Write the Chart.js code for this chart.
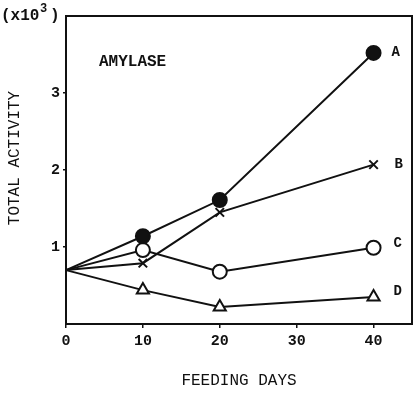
<!DOCTYPE html>
<html>
<head>
<meta charset="utf-8">
<style>
  html, body { margin: 0; padding: 0; background: #fff; }
  #wrap { width: 414px; height: 394px; position: relative; }
</style>
<script src="https://cdn.jsdelivr.net/npm/chart.js@4.4.1/dist/chart.umd.min.js"></script>
</head>
<body>
<div id="wrap"><canvas id="myChart" width="414" height="394"></canvas></div>
<script>
'use strict';

// feeding days and amylase total activity (x10^3)
const days = [0, 10, 20, 40];
const seriesA = [0.70, 1.14, 1.61, 3.52];
const seriesB = [0.70, 0.79, 1.45, 2.07];
const seriesC = [0.70, 0.96, 0.68, 0.99];
const seriesD = [0.70, 0.44, 0.22, 0.35];
const seriesNames = ['A', 'B', 'C', 'D'];
const xTicks = [0, 10, 20, 30, 40];
const yTicks = [1, 2, 3];

const ink = '#111';
const mono = "'Liberation Mono', 'DejaVu Sans Mono', monospace";

function pts(vals) {
    return days.map((d, i) => ({ x: d, y: vals[i] }));
}

function makeSet(name, vals, style, fill, radius) {
    return {
        label: name,
        data: pts(vals),
        borderColor: ink,
        borderWidth: 2,
        pointStyle: style,
        pointRadius: vals.map((v, i) => i === 0 ? 0 : radius),
        pointBackgroundColor: fill,
        pointBorderColor: ink,
        pointBorderWidth: 2,
        tension: 0,
        clip: false
    };
}

// frame + free text (x10^3, y title, AMYLASE, series letters)
const extras = {
    id: 'extras',
    afterDraw(chart) {
        const c = chart.ctx;
        const a = chart.chartArea;
        c.save();
        c.strokeStyle = ink;
        c.lineWidth = 2;
        c.strokeRect(a.left, a.top, a.right - a.left, a.bottom - a.top);

        c.fillStyle = ink;
        c.textBaseline = 'middle';
        c.font = 'bold 16px ' + mono;
        c.fillText('(x10', 1, 16);
        c.font = 'bold 12px ' + mono;
        c.fillText('3', 40, 9);
        c.font = 'bold 16px ' + mono;
        c.fillText(')', 50, 16);

        c.font = 'bold 16px ' + mono;
        c.fillText('AMYLASE', 99, 62);

        // y axis title
        c.save();
        c.translate(15, 158);
        c.rotate(-Math.PI / 2);
        c.textAlign = 'center';
        c.font = '16px ' + mono;
        c.fillText('TOTAL ACTIVITY', 0, 0);
        c.restore();

        const xs = chart.scales.x, ys = chart.scales.y;
        const last = days.length - 1;
        const offs = [[18, 0], [21, 0], [20, -4], [20, -6]];
        c.font = 'bold 14px ' + mono;
        chart.data.datasets.forEach((ds, i) => {
            const p = ds.data[last];
            c.fillText(seriesNames[i], xs.getPixelForValue(p.x) + offs[i][0], ys.getPixelForValue(p.y) + offs[i][1]);
        });
        c.restore();
    }
};

const ctx = document.getElementById('myChart').getContext('2d');

new Chart(ctx, {
    type: 'line',
    data: {
        datasets: [
            makeSet('A', seriesA, 'circle', ink, 7),
            makeSet('B', seriesB, 'crossRot', ink, 6),
            makeSet('C', seriesC, 'circle', '#fff', 7),
            makeSet('D', seriesD, 'triangle', '#fff', 7)
        ]
    },
    options: {
        responsive: false,
        animation: false,
        layout: { autoPadding: false, padding: { top: 16, right: 2, left: 0, bottom: 0 } },
        plugins: {
            legend: { display: false },
            tooltip: { enabled: false }
        },
        scales: {
            x: {
                type: 'linear',
                min: 0,
                max: 45,
                afterBuildTicks: s => { s.ticks = xTicks.map(v => ({ value: v })); },
                afterFit: s => { s.height = 70; s.paddingLeft = 0; s.paddingRight = 0; },
                grid: { drawOnChartArea: false, tickLength: 4, color: ink, lineWidth: 1.5 },
                border: { color: ink, width: 2 },
                ticks: { color: ink, padding: 4, maxRotation: 0, font: { family: mono, size: 15, weight: 'bold' } },
                title: {
                    display: true,
                    text: 'FEEDING DAYS',
                    color: ink,
                    padding: { top: 0, bottom: 4 },
                    font: { family: mono, size: 16 }
                }
            },
            y: {
                min: 0,
                max: 4,
                afterBuildTicks: s => { s.ticks = yTicks.map(v => ({ value: v })); },
                afterFit: s => { s.width = 66; s.paddingTop = 0; s.paddingBottom = 0; },
                grid: { drawOnChartArea: false, tickLength: 3, color: ink, lineWidth: 1.5 },
                border: { color: ink, width: 2 },
                ticks: { color: ink, padding: 3, font: { family: mono, size: 15, weight: 'bold' } }
            }
        }
    },
    plugins: [extras]
});
</script>
</body>
</html>
